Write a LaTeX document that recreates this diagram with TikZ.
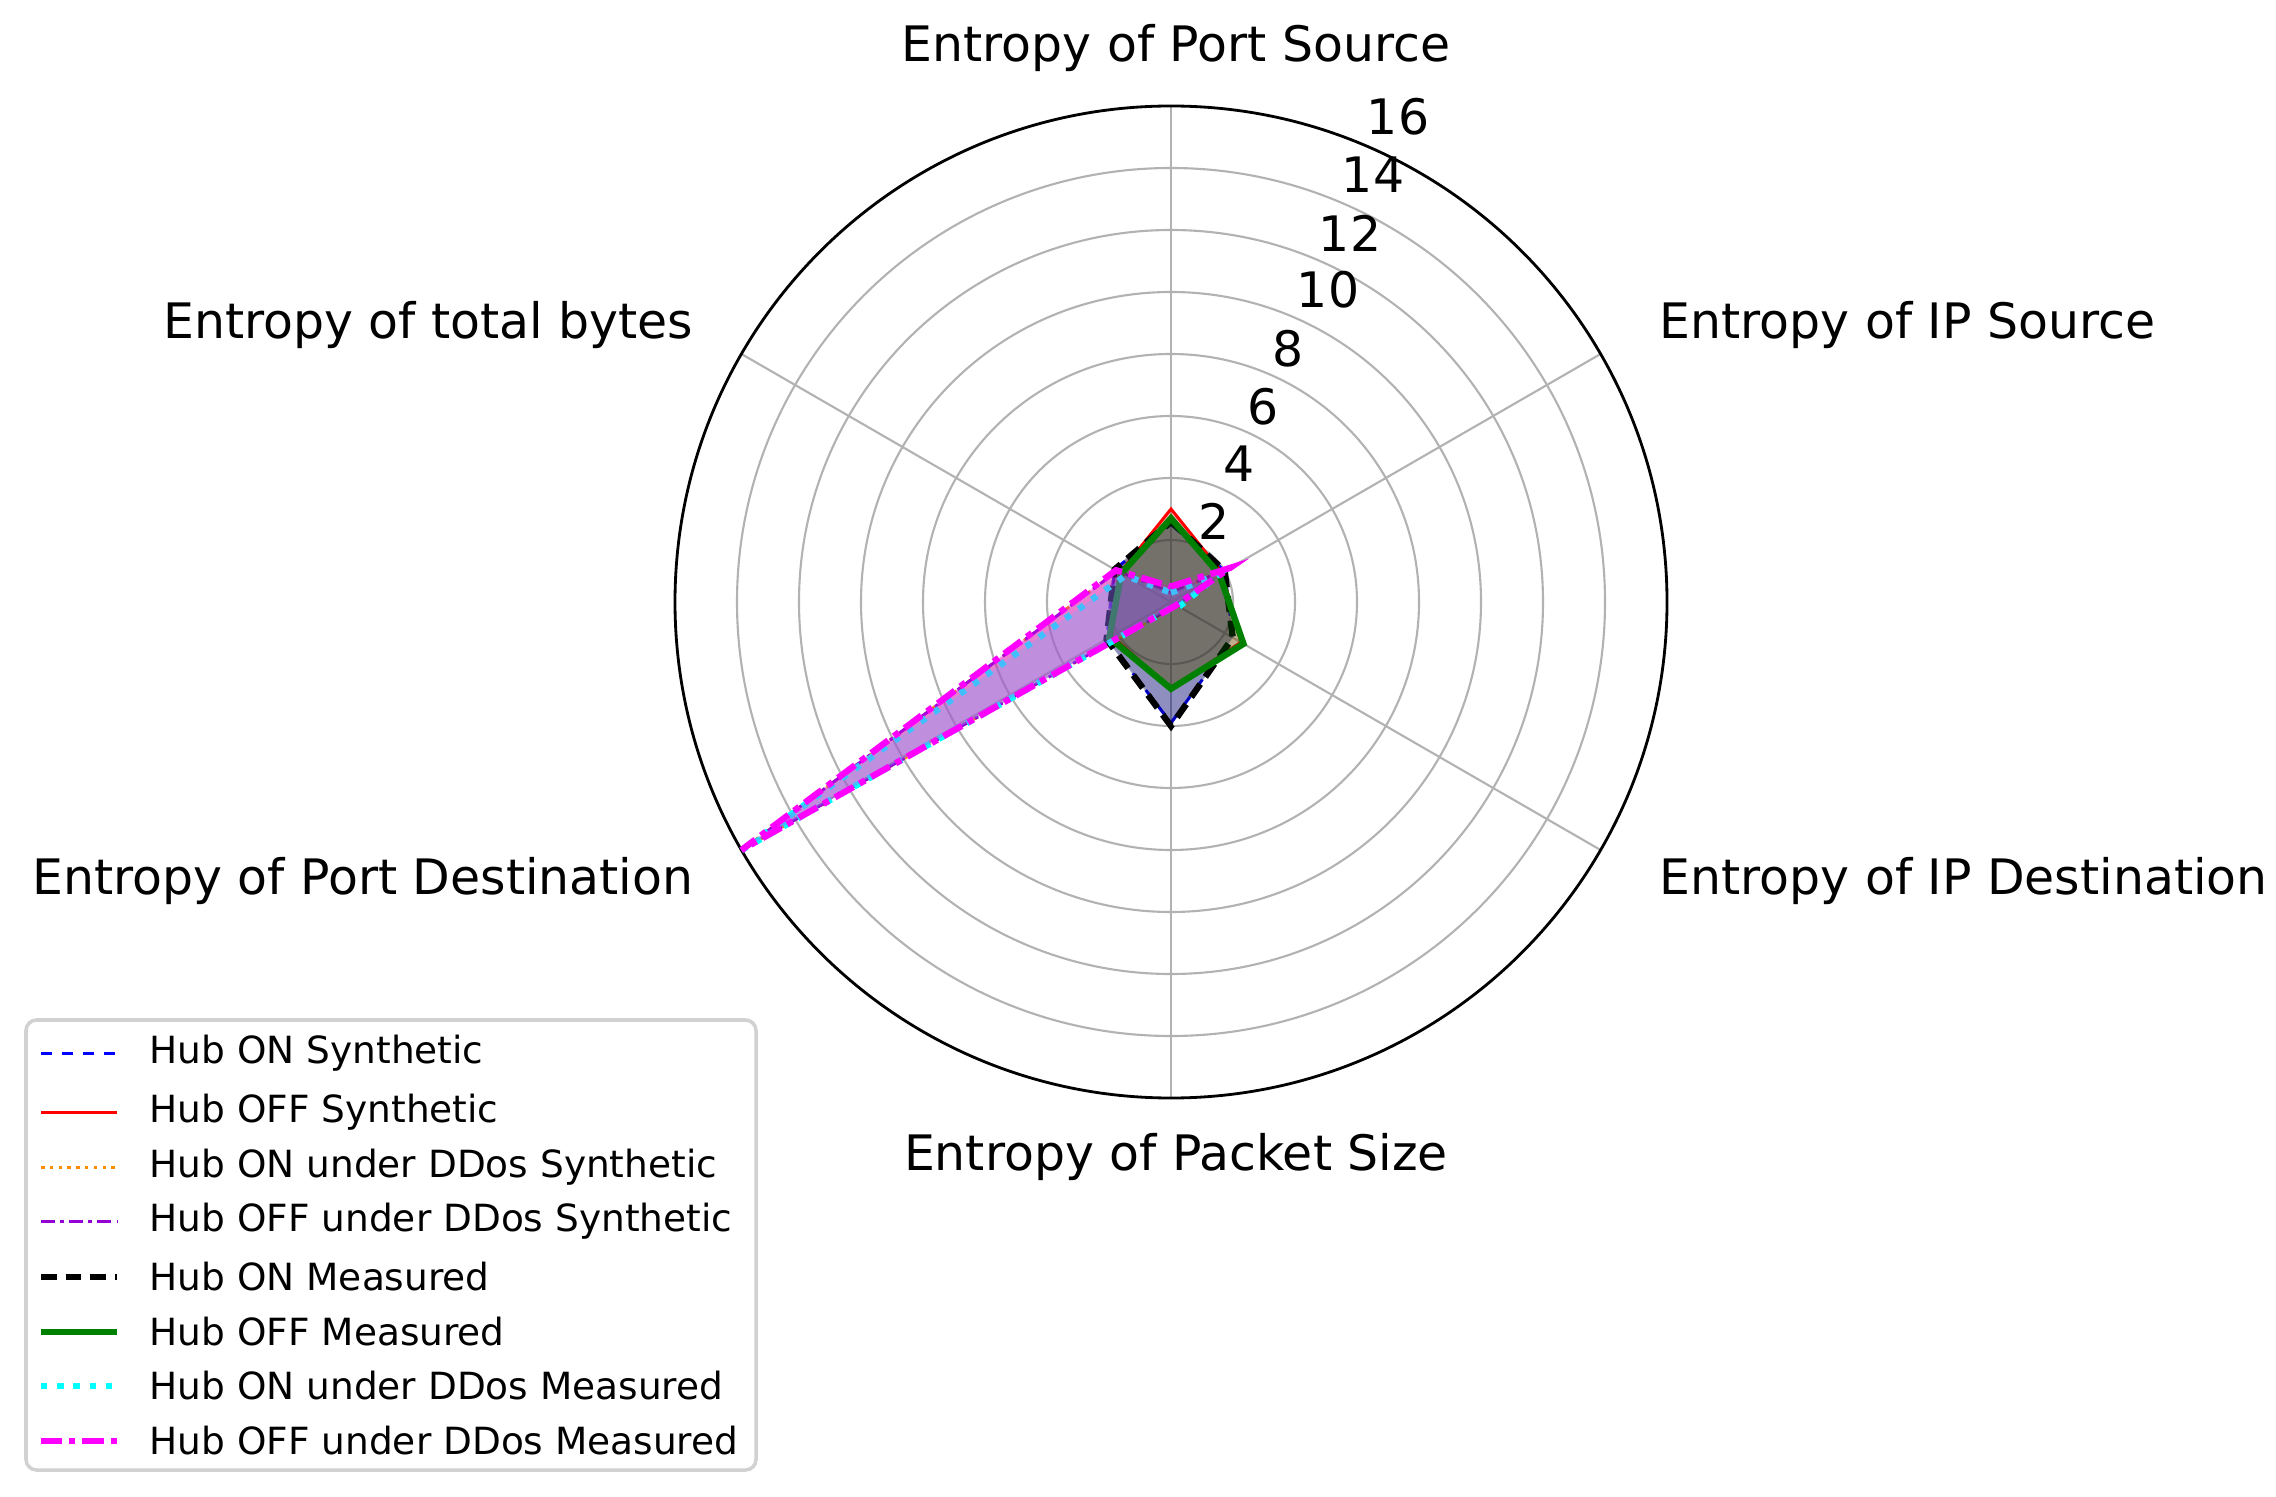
\documentclass[tikz,border=0pt]{standalone}
\usepackage{fontspec}
\setmainfont{DejaVu Sans}
\begin{document}
\begin{tikzpicture}[x=0.01cm,y=0.01cm,
  lab/.style={font=\fontsize{13.9pt}{16pt}\selectfont,inner sep=0pt},
  tick/.style={font=\fontsize{13.9pt}{16pt}\selectfont,inner sep=0pt},
  leg/.style={font=\fontsize{10.65pt}{12pt}\selectfont,inner sep=0pt,anchor=west},
  grid/.style={draw=black!30,line width=0.6pt},
  sb/.style={cBlue,dashed,line width=0.85pt,fill=cBlue,fill opacity=0.25,draw opacity=1},
  sr/.style={cRed,line width=0.85pt,fill=cRed,fill opacity=0.25,draw opacity=1},
  so/.style={cOrange,dash pattern=on 1pt off 1.5pt,line width=0.85pt,fill=cOrange,fill opacity=0.25,draw opacity=1},
  sp/.style={cViolet,dash pattern=on 4pt off 1.5pt on 1pt off 1.5pt,line width=0.85pt,fill=cViolet,fill opacity=0.25,draw opacity=1},
  mk/.style={black,dash pattern=on 4.5pt off 2.5pt,line width=1.8pt,fill=black,fill opacity=0.25,draw opacity=1},
  mg/.style={cGreen,line width=1.8pt,fill=cGreen,fill opacity=0.25,draw opacity=1},
  mc/.style={cCyan,dash pattern=on 1.8pt off 2.8pt,line width=1.8pt,fill=cCyan,fill opacity=0.25,draw opacity=1},
  mm/.style={cMag,dash pattern=on 6pt off 2pt on 1.8pt off 2pt,line width=1.8pt,fill=cMag,fill opacity=0.25,draw opacity=1}]
\definecolor{cBlue}{RGB}{0,0,255}
\definecolor{cRed}{RGB}{255,0,0}
\definecolor{cOrange}{RGB}{255,140,0}
\definecolor{cViolet}{RGB}{148,0,211}
\definecolor{cGreen}{RGB}{0,128,0}
\definecolor{cCyan}{RGB}{0,255,255}
\definecolor{cMag}{RGB}{255,0,255}
\useasboundingbox (0,0) rectangle (2276,1496);
\newcommand{\radar}[7]{\draw[#1] (90:{#2*31}) -- (30:{#3*31}) -- (-30:{#4*31}) -- (-90:{#5*31}) -- (210:{#6*31}) -- (150:{#7*31}) -- cycle;}
\begin{scope}[shift={(1171,894)}]
\coordinate (c) at (0,0);
\foreach \k in {2,4,...,14} \draw[grid] (c) circle ({\k*31});
\foreach \a in {90,30,-30,-90,210,150} \draw[grid] (c) -- (\a:496);
\draw[black,line width=0.8pt] (c) circle (496);
\radar{sb}{2.5}{2.0}{2.3}{3.9}{2.4}{2.1}
\radar{sr}{3.0}{1.9}{2.6}{2.8}{2.2}{1.9}
\radar{so}{0.3}{1.8}{0.2}{0.2}{15.9}{2.0}
\radar{sp}{0.3}{2.2}{0.2}{0.2}{15.9}{2.0}
\radar{mk}{2.6}{2.0}{2.3}{4.0}{2.4}{2.1}
\radar{mg}{2.7}{1.8}{2.7}{2.8}{2.3}{1.85}
\radar{mc}{0.3}{1.8}{0.3}{0.2}{16}{1.7}
\radar{mm}{0.5}{2.2}{0.2}{0.2}{16}{2.05}
\end{scope}
\node[tick] (t2) at (1214,975) {2};
\node[tick] (t4) at (1239,1032) {4};
\node[tick] (t6) at (1263,1089) {6};
\node[tick] (t8) at (1288,1147) {8};
\node[tick] (t10) at (1328,1206) {10};
\node[tick] (t12) at (1350,1263) {12};
\node[tick] (t14) at (1373,1321) {14};
\node[tick] (t16) at (1398,1379) {16};
\node[lab] (l1) at (1176,1448) {Entropy of Port Source};
\node[lab,anchor=west] (l2) at (1659,1171) {Entropy of IP Source};
\node[lab,anchor=west] (l3) at (1659,615) {Entropy of IP Destination};
\node[lab] (l4) at (1176,339) {Entropy of Packet Size};
\node[lab,anchor=east] (l5) at (694,615) {Entropy of Port Destination};
\node[lab,anchor=east] (l6) at (694,1171) {Entropy of total bytes};
\draw[black!18,line width=1pt,fill=white,rounded corners=3pt] (26,26) rectangle (756,476);
\foreach \y/\s/\t [count=\i] in {443/sb/Hub ON Synthetic,384/sr/Hub OFF Synthetic,329/so/Hub ON under DDos Synthetic,275/sp/Hub OFF under DDos Synthetic,219/mk/Hub ON Measured,164/mg/Hub OFF Measured,110/mc/Hub ON under DDos Measured,55/mm/Hub OFF under DDos Measured}{
  \draw[\s,fill=none] (41,\y) -- (117,\y);
  \node[leg] (e\i) at (149,\y) {\t};
}
\end{tikzpicture}
\end{document}
